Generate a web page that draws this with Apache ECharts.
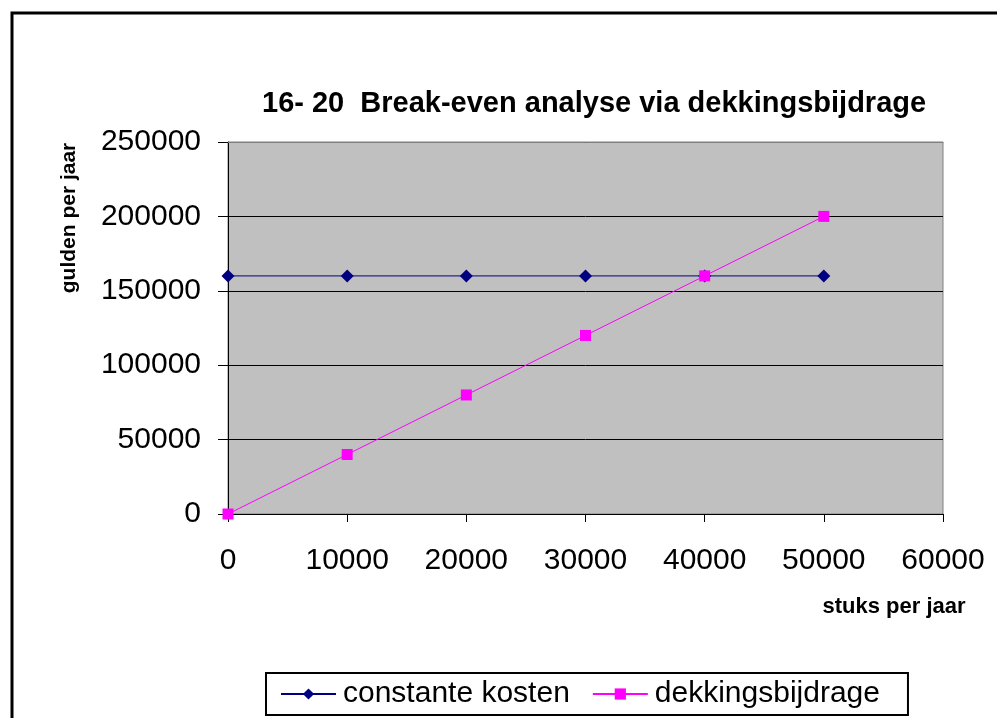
<!DOCTYPE html>
<html>
<head>
<meta charset="utf-8">
<script src="https://cdn.jsdelivr.net/npm/echarts@6/dist/echarts.min.js"></script>
<style>html,body{margin:0;padding:0;background:#fff}#c{width:997px;height:718px}</style>
</head>
<body>
<div id="c"></div>
<script>
var stuks = [0, 10000, 20000, 30000, 40000, 50000];
var constanteKosten = [160000, 160000, 160000, 160000, 160000, 160000];
var dekkingsbijdrage = [0, 40000, 80000, 120000, 160000, 200000];
var seriesNames = ['constante kosten', 'dekkingsbijdrage'];
var titleText = '16- 20  Break-even analyse via dekkingsbijdrage';
var xName = 'stuks per jaar';
var yName = 'gulden per jaar';

function pairs(xs, ys) { return xs.map(function (x, i) { return [x, ys[i]]; }); }
function plain(v) { return String(v); }

var font = '"Liberation Sans", Arial, sans-serif';
var chart = echarts.init(document.getElementById('c'));
chart.setOption({
  animation: false,
  backgroundColor: '#ffffff',
  title: {
    text: titleText, left: 257, top: 84,
    textStyle: { fontFamily: font, fontWeight: 'bold', fontSize: 29, color: '#000' }
  },
  grid: {
    left: 228, right: 54, top: 142, bottom: 204,
    show: true, backgroundColor: '#C0C0C0', borderColor: '#808080', borderWidth: 1
  },
  xAxis: [{
    type: 'value', min: 0, max: 60000, interval: 10000,
    axisLine: { show: true, lineStyle: { color: '#000', width: 1 } },
    axisTick: { show: true, length: 8, lineStyle: { color: '#000' } },
    axisLabel: { fontFamily: font, fontSize: 30, color: '#000', margin: 32, formatter: plain },
    splitLine: { show: false }
  }, {
    type: 'value', position: 'top', min: 0, max: 60000, interval: 10000,
    axisLine: { show: true, lineStyle: { color: '#808080', width: 1 } },
    axisTick: { show: false }, axisLabel: { show: false }, splitLine: { show: false }
  }],
  yAxis: {
    type: 'value', min: 0, max: 250000, interval: 50000,
    axisLine: { show: true, lineStyle: { color: '#000', width: 1 } },
    axisTick: { show: true, length: 10, lineStyle: { color: '#000' } },
    axisLabel: { fontFamily: font, fontSize: 30, color: '#000', margin: 27, formatter: plain },
    splitLine: { show: true, lineStyle: { color: '#000', width: 1 } }
  },
  legend: {
    left: 266, top: 673,
    padding: [6, 28, 6, 14],
    itemGap: 22, itemWidth: 55, itemHeight: 14,
    borderColor: '#000', borderWidth: 2, backgroundColor: '#fff',
    textStyle: { fontFamily: font, fontSize: 30, color: '#000', padding: [0, 0, 0, 2] },
    data: seriesNames
  },
  series: [
    {
      name: seriesNames[0], type: 'line', data: pairs(stuks, constanteKosten),
      symbol: 'diamond', symbolSize: 13,
      lineStyle: { color: '#000080', width: 1 },
      itemStyle: { color: '#000080' }
    },
    {
      name: seriesNames[1], type: 'line', data: pairs(stuks, dekkingsbijdrage),
      symbol: 'rect', symbolSize: 11,
      lineStyle: { color: '#FF00FF', width: 1 },
      itemStyle: { color: '#FF00FF' }
    }
  ],
  graphic: [
    { type: 'rect', shape: { x: 12, y: 13, width: 1000, height: 760 }, style: { fill: null, stroke: '#000', lineWidth: 3 }, z: 100 },
    { type: 'text', x: 69, y: 218, rotation: Math.PI / 2,
      style: { text: yName, fontFamily: font, fontWeight: 'bold', fontSize: 21, fill: '#000', align: 'center', verticalAlign: 'middle' } },
    { type: 'text', x: 894, y: 607,
      style: { text: xName, fontFamily: font, fontWeight: 'bold', fontSize: 22, fill: '#000', align: 'center', verticalAlign: 'middle' } }
  ]
});
</script>
</body>
</html>
